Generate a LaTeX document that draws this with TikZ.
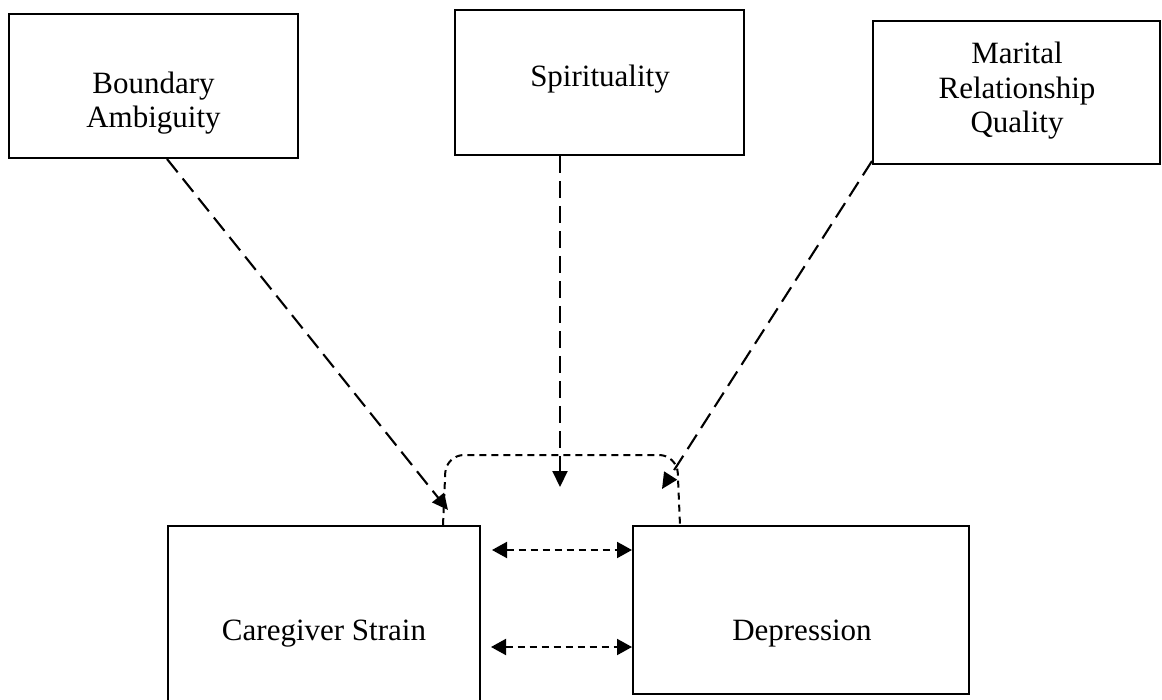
\documentclass[tikz,border=0pt]{standalone}
\usepackage{fontspec}
\setmainfont{Liberation Serif}
\usetikzlibrary{arrows.meta,calc}

\tikzset{
    box/.style={draw, line width=2pt, rectangle, inner sep=0pt},
    label/.style={font=\fontsize{31}{34.5}\selectfont, align=center, anchor=base},
    longdash/.style={line width=2.1pt, dash pattern=on 17pt off 8pt,
        -{Triangle[length=16pt,width=15pt]}},
    shortdash/.style={line width=2pt, dash pattern=on 7pt off 5pt},
    twoway/.style={shortdash, {Triangle[length=15pt,width=16pt]}-{Triangle[length=15pt,width=16pt]}}
}

\begin{document}
\begin{tikzpicture}[x=1pt, y=-1pt]
    \useasboundingbox (0,0) rectangle (1162,700);

    % Top boxes
    \node[box, minimum width=289pt, minimum height=144pt] (ba) at (153.5, 86) {};
    \node[box, minimum width=289pt, minimum height=145pt] (sp) at (599.5, 82.5) {};
    \node[box, minimum width=287pt, minimum height=143pt] (mr) at (1016.5, 92.5) {};

    % Bottom boxes
    \node[box, minimum width=312pt, minimum height=186pt] (cs) at (324, 619) {};
    \node[box, minimum width=336pt, minimum height=168pt] (dep) at (801, 610) {};

    % Labels (base = last line)
    \node[label] (baText) at (153.5, 128) {Boundary\\Ambiguity};
    \node[label] (spText) at (600, 87) {Spirituality};
    \node[label] (mrText) at (1017, 133) {Marital\\Relationship\\Quality};
    \node[label] (csText) at (324, 640) {Caregiver Strain};
    \node[label] (depText) at (802, 640) {Depression};

    % Arrow tips over the interaction
    \coordinate (tipL) at (448, 510);
    \coordinate (tipM) at (560, 487);
    \coordinate (tipR) at (662, 489);

    % Moderator arrows
    \draw[longdash] ($(ba.south)+(13.5,0)$) -- (tipL);
    \draw[longdash] (sp.south -| tipM) -- (tipM);
    \draw[longdash] ($(mr.south west)+(0,-4)$) -- (tipR);

    % Dashed bracket over the link
    \draw[shortdash, rounded corners=18pt]
        ($(cs.north east)+(-38,0)$) -- (446, 455) -- (677, 455) -- ($(dep.north west)+(48,0)$);

    % Two-way links
    \coordinate (row1) at (0, 550);
    \coordinate (row2) at (0, 647);
    \draw[twoway] ($(cs.east |- row1)+(11,0)$) -- (dep.west |- row1);
    \draw[twoway] ($(cs.east |- row2)+(10,0)$) -- (dep.west |- row2);
\end{tikzpicture}
\end{document}
